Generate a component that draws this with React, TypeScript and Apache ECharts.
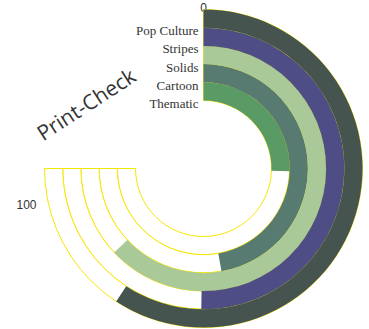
import React, { useEffect, useRef } from "react";
import * as echarts from "echarts";

const categories = ["Thematic", "Cartoon", "Solids", "Stripes", "Pop Culture"];
const values = [34, 63, 84, 67, 79];
const angleTicks = [0, 100];
const barColors = ["#5a9b65", "#577a71", "#a9c999", "#4e4d85", "#45544f"];

export default function App() {
  const ref = useRef<HTMLDivElement>(null);
  useEffect(() => {
    if (!ref.current) return;
    const chart = echarts.init(ref.current, null, { renderer: "svg" });
    const maxV = angleTicks[angleTicks.length - 1];
    chart.setOption({
      animation: false,
      backgroundColor: "#ffffff",
      graphic: [
        {
          type: "text",
          z: 100,
          x: 86,
          y: 104,
          rotation: (33 * Math.PI) / 180,
          style: {
            text: "Print-Check",
            align: "center",
            verticalAlign: "middle",
            fontFamily: "Open Sans",
            fontSize: 21,
            fill: "#333",
          },
        },
      ],
      polar: { center: [203.5, 168.5], radius: [68, 159] },
      angleAxis: {
        type: "value",
        min: angleTicks[0],
        max: maxV,
        interval: 100,
        startAngle: 90,
        endAngle: -180,
        clockwise: true,
        axisLine: { show: false },
        axisTick: { show: false },
        splitLine: { show: false },
        axisLabel: {
          margin: -4,
          color: "#333",
          fontFamily: "Liberation Sans",
          fontSize: 12,
          formatter: (v: number) => (v === 100 ? "{b|100}" : "{a|" + v + "}"),
          rich: {
            a: { fontFamily: "Liberation Sans", fontSize: 12, color: "#333" },
            b: {
              fontFamily: "Liberation Sans",
              fontSize: 12,
              color: "#333",
              padding: [73, 12, 0, 0],
            },
          },
        },
      },
      radiusAxis: {
        type: "category",
        data: categories,
        z: 10,
        axisLine: { show: false },
        axisTick: { show: false },
        splitLine: { show: false },
        axisLabel: {
          interval: 0,
          margin: 5,
          formatter: (v: string) => "{c|" + v + "}",
          rich: {
            c: {
              color: "#333",
              fontFamily: "Liberation Serif",
              fontSize: 13,
              padding: [24, 0, 0, 0],
            },
          },
        },
      },
      series: [
        {
          type: "bar",
          coordinateSystem: "polar",
          barCategoryGap: "0%",
          barGap: "-100%",
          silent: true,
          itemStyle: {
            color: "#ffffff",
            borderColor: "#f7e600",
            borderWidth: 1,
          },
          data: categories.map(() => maxV),
        },
        {
          type: "bar",
          coordinateSystem: "polar",
          barCategoryGap: "0%",
          barGap: "-100%",
          data: values.map((v, i) => ({
            value: v,
            itemStyle: { color: barColors[i] },
          })),
        },
      ],
    });
    return () => chart.dispose();
  }, []);
  return (
    <div
      ref={ref}
      style={{ position: "fixed", left: 0, top: 0, width: 369, height: 329 }}
    />
  );
}
